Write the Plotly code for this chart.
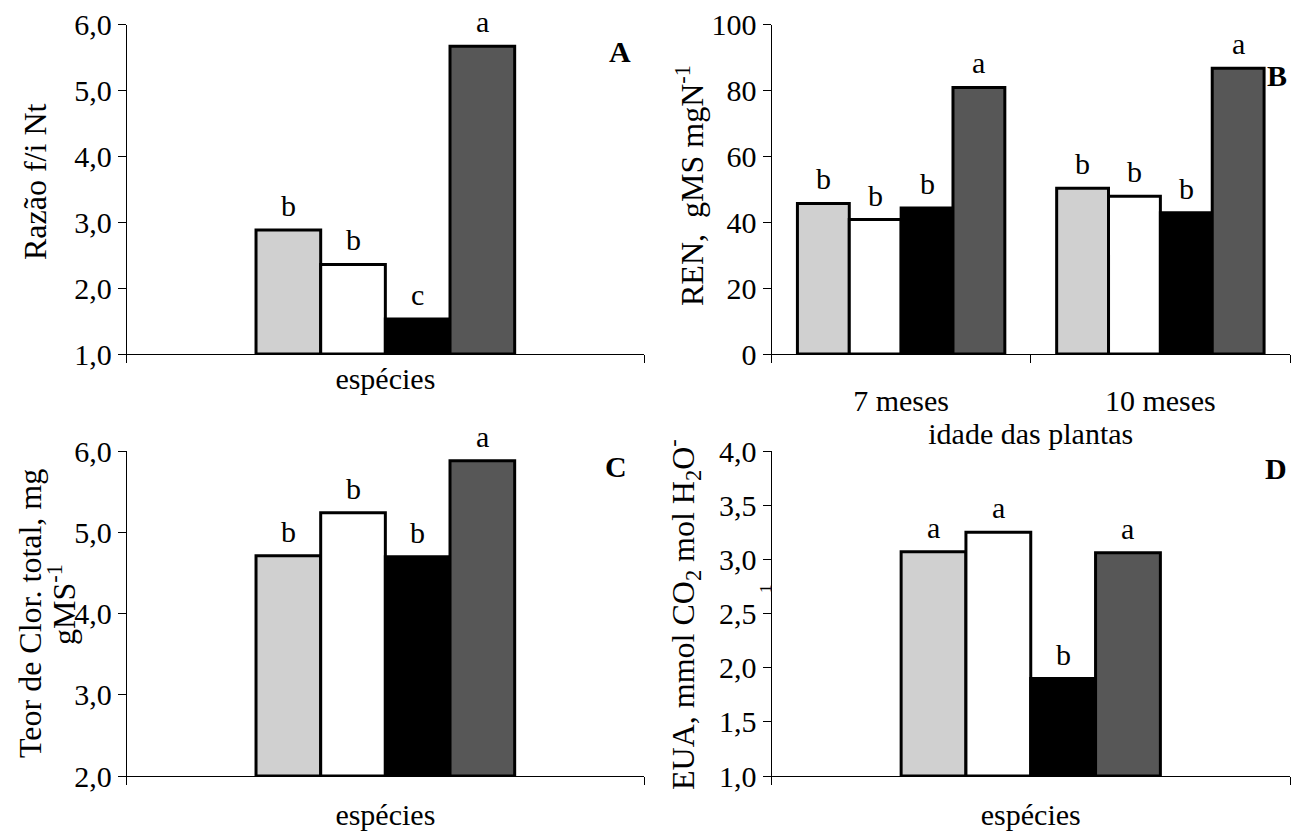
import plotly.graph_objects as go

W, H = 1292, 835

# ---------------- data ----------------
species_colors = ["#d0d0d0", "#ffffff", "#000000", "#575757"]

a_category = ["espécies"]
a_values = [2.88, 2.36, 1.53, 5.67]
a_letters = ["b", "b", "c", "a"]

b_categories = ["7 meses", "10 meses"]
b_values = [[45.7, 50.3], [40.8, 47.9], [44.3, 42.9], [80.9, 86.7]]
b_letters = [["b", "b"], ["b", "b"], ["b", "b"], ["a", "a"]]

c_category = ["espécies"]
c_values = [4.71, 5.24, 4.70, 5.88]
c_letters = ["b", "b", "b", "a"]

d_category = ["espécies"]
d_values = [3.07, 3.25, 1.90, 3.06]
d_letters = ["a", "a", "b", "a"]

FONT = "Liberation Serif, Times New Roman, serif"
FS = 30
TS = 32


def fx(p):
    return p / W


def fy(p):
    return 1 - p / H


fig = go.Figure()
ann = []


def add_panel(xa, ya, cats, vals_per_species, letters_per_species, base, width, start):
    for i in range(4):
        vals = vals_per_species[i]
        fig.add_trace(go.Bar(
            x=cats,
            y=[v - base for v in vals],
            base=base,
            width=width,
            offset=start + i * width,
            marker=dict(color=species_colors[i], line=dict(color="black", width=3)),
            xaxis=xa, yaxis=ya,
            showlegend=False,
            hoverinfo="skip",
        ))
        # significance letters above each bar, positioned through the axes
        for k, (v, lab) in enumerate(zip(vals, letters_per_species[i])):
            ann.append(dict(xref=xa, yref=ya, x=k + start + (i + 0.5) * width, y=v,
                            text=lab, showarrow=False, xanchor="center", yanchor="bottom",
                            yshift=6, font=dict(family=FONT, size=FS, color="black")))


add_panel("x", "y", a_category, [[v] for v in a_values], [[l] for l in a_letters], 1.0, 0.125, -0.25)
add_panel("x2", "y2", b_categories, b_values, b_letters, 0.0, 0.2, -0.4)
add_panel("x3", "y3", c_category, [[v] for v in c_values], [[l] for l in c_letters], 2.0, 0.125, -0.25)
add_panel("x4", "y4", d_category, [[v] for v in d_values], [[l] for l in d_letters], 1.0, 0.125, -0.25)

tickfont = dict(family=FONT, size=FS, color="black")

xcommon = dict(type="category", showline=True, linecolor="black", linewidth=1,
               ticks="outside", tickson="boundaries", ticklen=8, tickcolor="black",
               tickfont=tickfont, showgrid=False, zeroline=False, fixedrange=True,
               automargin=False)
ycommon = dict(showline=True, linecolor="black", linewidth=1, ticks="outside",
               ticklen=8, tickcolor="black", tickfont=tickfont, showgrid=False,
               zeroline=False, fixedrange=True, automargin=False)

xA = [fx(126.7), fx(644)]
xB = [fx(771.5), fx(1290)]
yTop = [fy(354), fy(24.5)]
yBot = [fy(776), fy(451)]

fig.update_layout(
    width=W, height=H,
    margin=dict(l=0, r=0, t=0, b=0, autoexpand=False),
    paper_bgcolor="white", plot_bgcolor="white",
    separators=", ",
    barmode="group",
    font=dict(family=FONT, size=FS, color="black"),
    xaxis=dict(xcommon, domain=xA, anchor="y", range=[-0.5, 0.5], ticklabelstandoff=-2),
    yaxis=dict(ycommon, domain=yTop, anchor="x", range=[1, 6], dtick=1, tickformat=".1f"),
    xaxis2=dict(xcommon, domain=xB, anchor="y2", range=[-0.5, 1.5], ticklabelstandoff=20,
                title=dict(text="idade das plantas", font=tickfont, standoff=0)),
    yaxis2=dict(ycommon, domain=yTop, anchor="x2", range=[0, 100], dtick=20, tickformat="d"),
    xaxis3=dict(xcommon, domain=xA, anchor="y3", range=[-0.5, 0.5], ticklabelstandoff=12),
    yaxis3=dict(ycommon, domain=yBot, anchor="x3", range=[2, 6], dtick=1, tickformat=".1f"),
    xaxis4=dict(xcommon, domain=xB, anchor="y4", range=[-0.5, 0.5], ticklabelstandoff=12),
    yaxis4=dict(ycommon, domain=yBot, anchor="x4", range=[1, 4], dtick=0.5, tickformat=".1f"),
)


def text_ann(x, y, text, angle=0, bold=False, size=TS):
    ann.append(dict(xref="paper", yref="paper", x=fx(x), y=fy(y), text=("<b>%s</b>" % text) if bold else text,
                    showarrow=False, textangle=angle, xanchor="center", yanchor="middle",
                    font=dict(family=FONT, size=size, color="black")))


text_ann(35, 182, "Razão f/i Nt", angle=-90)
text_ann(690, 185, "REN,  gMS mgN<sup>-1</sup>", angle=-90)
text_ann(30, 614, "Teor de Clor. total, mg", angle=-90)
text_ann(62, 605, "gMS<sup>-1</sup>", angle=-90)
text_ann(683, 615, "EUA, mmol CO<sub>2</sub> mol H<sub>2</sub>O<sup>-</sup>", angle=-90)
text_ann(765, 588, "1", angle=-90, size=17)
text_ann(620, 52, "A", bold=True, size=FS)
text_ann(1277, 75, "B", bold=True, size=FS)
text_ann(616, 466, "C", bold=True, size=FS)
text_ann(1276, 468, "D", bold=True, size=FS)

fig.update_layout(annotations=ann)

fig.write_html("out.html", config={"displayModeBar": False},
               post_script="document.body.style.margin='0px';document.body.style.overflow='hidden';")
